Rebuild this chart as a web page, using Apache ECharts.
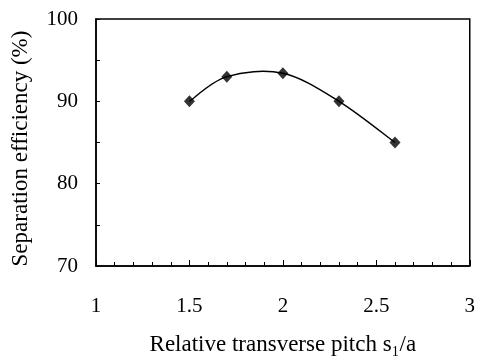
<!DOCTYPE html>
<html>
<head>
<meta charset="utf-8">
<script src="https://cdn.jsdelivr.net/npm/echarts@6/dist/echarts.min.js"></script>
<style>html,body{margin:0;padding:0;background:#fff;}#c{width:478px;height:361px;}</style>
</head>
<body>
<div id="c"></div>
<script>
var pitch = [1.5, 1.7, 2.0, 2.3, 2.6];
var efficiency = [90, 93, 93.4, 90, 85];
var xTicks = [1, 1.5, 2, 2.5, 3];
var yTicks = [70, 80, 90, 100];

var font = '"Liberation Serif", "Times New Roman", serif';
var points = pitch.map(function (x, i) { return [x, efficiency[i]]; });

function renderCurve(params, api) {
  if (params.dataIndex !== 0) return null;
  var p = points.map(function (d) { return api.coord(d); });
  var n = p.length;
  var path = 'M' + p[0][0] + ' ' + p[0][1];
  for (var i = 0; i < n - 1; i++) {
    var p0 = p[Math.max(i - 1, 0)], p1 = p[i], p2 = p[i + 1], p3 = p[Math.min(i + 2, n - 1)];
    var c1x = p1[0] + (p2[0] - p0[0]) / 6, c1y = p1[1] + (p2[1] - p0[1]) / 6;
    var c2x = p2[0] - (p3[0] - p1[0]) / 6, c2y = p2[1] - (p3[1] - p1[1]) / 6;
    path += ' C' + c1x + ' ' + c1y + ' ' + c2x + ' ' + c2y + ' ' + p2[0] + ' ' + p2[1];
  }
  return {
    type: 'path',
    shape: {pathData: path},
    style: {stroke: '#000', lineWidth: 1.5, fill: null}
  };
}

var chart = echarts.init(document.getElementById('c'), null, {renderer: 'canvas'});
chart.setOption({
  animation: false,
  backgroundColor: '#fff',
  grid: {left: 96, right: 7, top: 19, bottom: 90, show: true, borderColor: '#000', borderWidth: 1.5, backgroundColor: 'transparent'},
  xAxis: {
    type: 'value', min: 1, max: 3, interval: 0.5,
    name: 'Relative transverse pitch s\u2081/a', nameLocation: 'middle', nameGap: 67,
    nameTextStyle: {fontFamily: font, fontSize: 23, color: '#000'},
    axisLine: {onZero: false, lineStyle: {color: '#000', width: 1.5}},
    axisTick: {inside: true, length: 6, lineStyle: {color: '#000'}},
    minorTick: {show: true, splitNumber: 5, length: 4, lineStyle: {color: '#000'}},
    splitLine: {show: false},
    axisLabel: {fontFamily: font, fontSize: 21, color: '#000', margin: 30,
      formatter: function (v) { return xTicks.indexOf(v) >= 0 ? String(v) : ''; }}
  },
  yAxis: {
    type: 'value', min: 70, max: 100, interval: 10,
    name: 'Separation efficiency (%)', nameLocation: 'middle', nameGap: 64,
    nameTextStyle: {fontFamily: font, fontSize: 23, color: '#000', padding: [0, 12, 0, 0]},
    axisLine: {onZero: false, lineStyle: {color: '#000', width: 1.5}},
    axisTick: {inside: true, length: 4, lineStyle: {color: '#000'}},
    minorTick: {show: true, splitNumber: 2, length: 4, lineStyle: {color: '#000'}},
    splitLine: {show: false},
    axisLabel: {fontFamily: font, fontSize: 21, color: '#000', margin: 18,
      formatter: function (v) { return yTicks.indexOf(v) >= 0 ? String(v) : ''; }}
  },
  series: [{
    type: 'custom',
    coordinateSystem: 'cartesian2d',
    renderItem: renderCurve,
    data: points,
    z: 2
  }, {
    type: 'scatter',
    data: points,
    symbol: 'diamond', symbolSize: [11, 12],
    itemStyle: {color: '#000'},
    z: 3
  }]
});
</script>
</body>
</html>
